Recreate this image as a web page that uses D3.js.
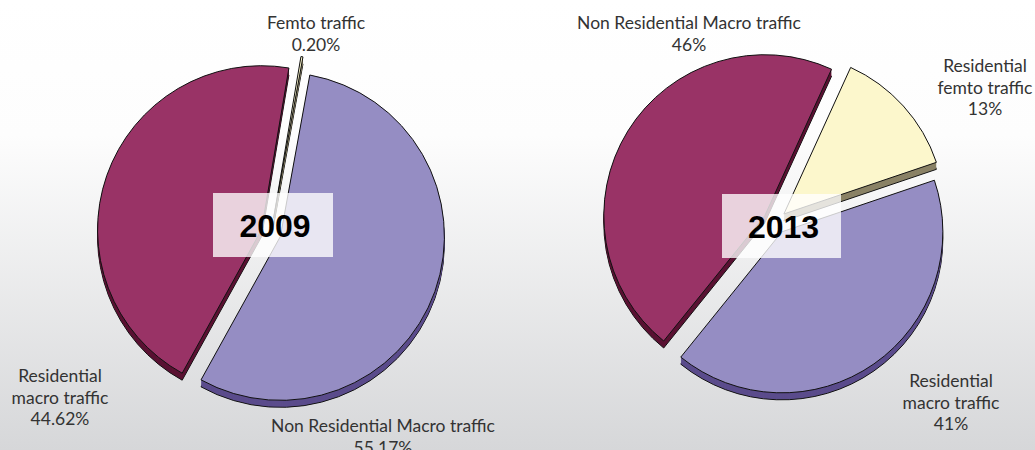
<!DOCTYPE html>
<html>
<head>
<meta charset="utf-8">
<script src="https://cdn.jsdelivr.net/npm/d3@7"></script>
<style>
  html, body { margin: 0; padding: 0; background: #fff; }
  svg { display: block; }
  .lbl { font-family: Lato, "Open Sans", sans-serif; font-size: 17.5px; fill: #333; }
  .year { font-family: "Liberation Sans", Arial, sans-serif; font-weight: bold; font-size: 32px; fill: #000; }
</style>
</head>
<body>
<script>
// data
const years = ["2009", "2013"];
const values2009 = [0.20, 55.17, 44.62];
const values2013 = [13, 41, 46];
const labels2009 = [
  ["Femto traffic", "0.20%"],
  ["Non Residential Macro traffic", "55.17%"],
  ["Residential", "macro traffic", "44.62%"],
];
const labels2013 = [
  ["Residential", "femto traffic", "13%"],
  ["Residential", "macro traffic", "41%"],
  ["Non Residential Macro traffic", "46%"],
];

// slice order: femto, purple, maroon
const topColors = ["#fcf7cc", "#958dc3", "#993366"];
const sideColors = ["#8a8266", "#5b4c8c", "#5a1233"];

const width = 1035, height = 450;
const depth = 7;

const charts = [
  {year: years[0], values: values2009, labels: labels2009,
   cx: 271, cy: 233, r: 164, start: 9.6, explode: [15, 10, 10],
   box: [213, 193, 120, 64],
   labelPos: [[316, 29], [383, 432], [60, 382]]},
  {year: years[1], values: values2013, labels: labels2013,
   cx: 775, cy: 222, r: 161, start: 24.5, explode: [12, 12, 12],
   box: [722, 194, 119, 64],
   labelPos: [[985, 72], [951, 387], [689, 29]]},
];

const lineH = 21.5;

const svg = d3.select("body").append("svg")
    .attr("width", width)
    .attr("height", height);

var grad = svg.append("defs").append("linearGradient")
    .attr("id", "bg")
    .attr("x1", 0).attr("y1", 0).attr("x2", 0).attr("y2", 1);
grad.append("stop").attr("offset", "0%").attr("stop-color", "#ffffff");
grad.append("stop").attr("offset", "30%").attr("stop-color", "#fdfdfd");
grad.append("stop").attr("offset", "100%").attr("stop-color", "#d6d7d9");

svg.append("rect")
    .attr("width", width)
    .attr("height", height)
    .attr("fill", "url(#bg)");

charts.forEach(c => {
  const rad = c.start * Math.PI / 180;
  const pie = d3.pie().sort(null)
      .startAngle(rad)
      .endAngle(rad + 2 * Math.PI);
  const arc = d3.arc().innerRadius(0).outerRadius(c.r);
  const arcs = pie(c.values);

  const off = (d, i) => {
    const m = (d.startAngle + d.endAngle) / 2;
    return [c.cx + c.explode[i] * Math.sin(m), c.cy - c.explode[i] * Math.cos(m)];
  };

  var g = svg.append("g");

  // sides (extrusion)
  arcs.forEach((d, i) => {
    const [x, y] = off(d, i);
    g.append("path")
        .attr("d", arc(d))
        .attr("transform", `translate(${x},${y + depth})`)
        .attr("fill", sideColors[i])
        .attr("stroke", "#111")
        .attr("stroke-width", 1);
    for (let k = depth - 1; k >= 1; k--) {
      g.append("path")
          .attr("d", arc(d))
          .attr("transform", `translate(${x},${y + k})`)
          .attr("fill", sideColors[i]);
    }
  });

  // tops
  arcs.forEach((d, i) => {
    const [x, y] = off(d, i);
    g.append("path")
        .attr("d", arc(d))
        .attr("transform", `translate(${x},${y})`)
        .attr("fill", topColors[i])
        .attr("stroke", "#111")
        .attr("stroke-width", 1)
        .attr("stroke-linejoin", "round");
  });

  // year box
  const [bx, by, bw, bh] = c.box;
  svg.append("rect")
      .attr("x", bx).attr("y", by)
      .attr("width", bw).attr("height", bh)
      .attr("fill", "#fff")
      .attr("fill-opacity", 0.78);
  svg.append("text")
      .attr("class", "year")
      .attr("x", bx + bw / 2 + 2)
      .attr("y", by + bh / 2 + 12)
      .attr("text-anchor", "middle")
      .text(c.year);

  // labels
  c.labels.forEach((lines, i) => {
    const [lx, ly] = c.labelPos[i];
    var t = svg.append("text")
        .attr("class", "lbl")
        .attr("text-anchor", "middle");
    lines.forEach((s, j) => {
      t.append("tspan")
          .attr("x", lx)
          .attr("y", ly + j * lineH)
          .text(s);
    });
  });
});
</script>
</body>
</html>
